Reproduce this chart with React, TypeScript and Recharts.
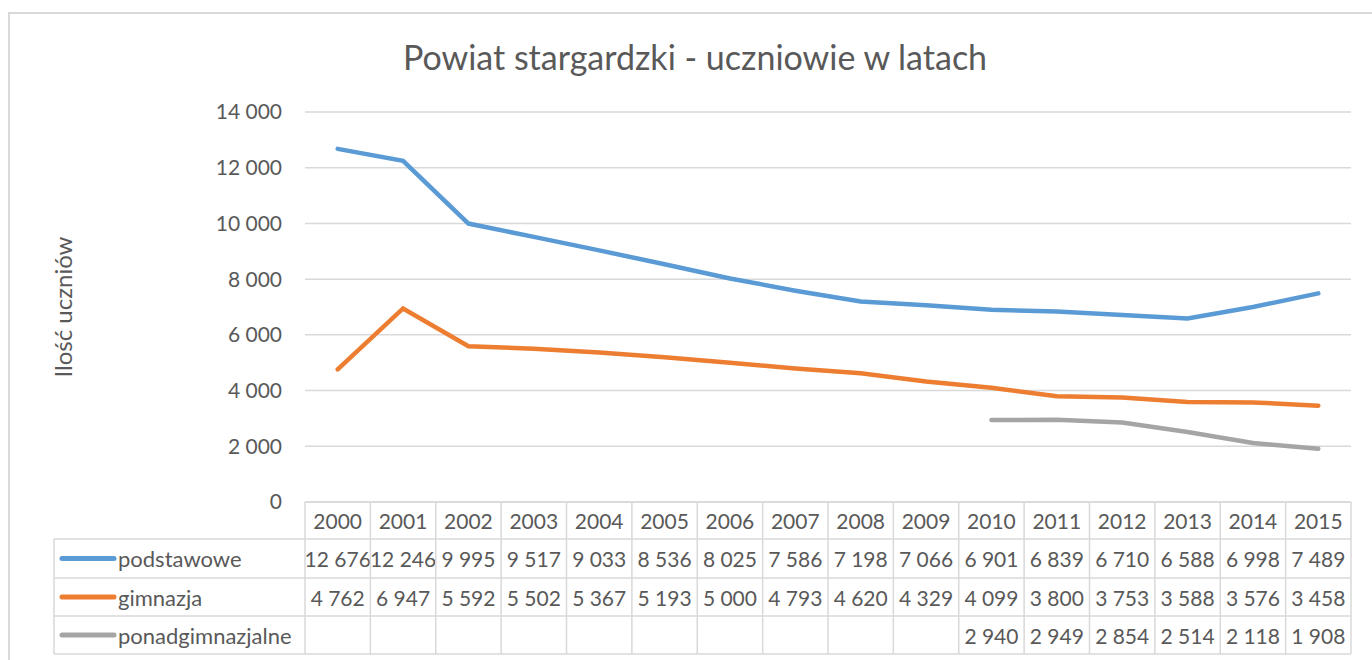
import React from 'react';
import { LineChart, Line, XAxis, YAxis, CartesianGrid } from 'recharts';

const years = ['2000', '2001', '2002', '2003', '2004', '2005', '2006', '2007', '2008', '2009', '2010', '2011', '2012', '2013', '2014', '2015'];
const podstawowe = [12676, 12246, 9995, 9517, 9033, 8536, 8025, 7586, 7198, 7066, 6901, 6839, 6710, 6588, 6998, 7489];
const gimnazja = [4762, 6947, 5592, 5502, 5367, 5193, 5000, 4793, 4620, 4329, 4099, 3800, 3753, 3588, 3576, 3458];
const ponadgimnazjalne = [null, null, null, null, null, null, null, null, null, null, 2940, 2949, 2854, 2514, 2118, 1908];
const yTicks = [0, 2000, 4000, 6000, 8000, 10000, 12000, 14000];

const series = [
  { key: 'podstawowe', name: 'podstawowe', color: '#5b9bd5', values: podstawowe },
  { key: 'gimnazja', name: 'gimnazja', color: '#ed7d31', values: gimnazja },
  { key: 'ponadgimnazjalne', name: 'ponadgimnazjalne', color: '#a5a5a5', values: ponadgimnazjalne },
];

const data = years.map((year, i) => ({
  year,
  podstawowe: podstawowe[i],
  gimnazja: gimnazja[i],
  ponadgimnazjalne: ponadgimnazjalne[i],
}));

const W = 1372;
const H = 660;
const LEFT = 305;
const RIGHT = 21;
const TOP = 112;
const BOTTOM = 158;
const BAND = (W - LEFT - RIGHT) / years.length;
const ROWS = [0, 37, 76, 114, 152];
const TABLE_LEFT = 54;
const FONT = 'Lato, "Open Sans", sans-serif';
const TEXT = '#595959';
const BORDER = '#d9d9d9';

const fmt = (v: number | null) => (v == null ? '' : v.toLocaleString('en-US').replace(/,/g, ' '));

const TableTick = (props: any) => {
  const { x, y, payload, index } = props;
  const left = x - BAND / 2;
  const right = x + BAND / 2;
  const last = index === years.length - 1;
  return (
    <g>
      {ROWS.map((r) => (
        <line key={r} x1={left} x2={right} y1={y + r} y2={y + r} stroke={BORDER} strokeWidth={1.5} />
      ))}
      <line x1={left} x2={left} y1={y} y2={y + ROWS[4]} stroke={BORDER} strokeWidth={1.5} />
      {last && <line x1={right} x2={right} y1={y} y2={y + ROWS[4]} stroke={BORDER} strokeWidth={1.5} />}
      <text x={x} y={y + (ROWS[0] + ROWS[1]) / 2} textAnchor="middle" dominantBaseline="central" fontSize={21} fill={TEXT} fontFamily={FONT}>
        {payload.value}
      </text>
      {series.map((s, si) => (
        <text key={s.key} x={x} y={y + (ROWS[si + 1] + ROWS[si + 2]) / 2} textAnchor="middle" dominantBaseline="central" fontSize={21} fill={TEXT} fontFamily={FONT}>
          {fmt(s.values[index])}
        </text>
      ))}
      {index === 0 && (
        <g>
          <line x1={TABLE_LEFT} x2={TABLE_LEFT} y1={y + ROWS[1]} y2={y + ROWS[4]} stroke={BORDER} strokeWidth={1.5} />
          {ROWS.slice(1).map((r) => (
            <line key={r} x1={TABLE_LEFT} x2={left} y1={y + r} y2={y + r} stroke={BORDER} strokeWidth={1.5} />
          ))}
          {series.map((s, si) => {
            const cy = y + (ROWS[si + 1] + ROWS[si + 2]) / 2;
            return (
              <g key={s.key}>
                <line x1={62} x2={114} y1={cy} y2={cy} stroke={s.color} strokeWidth={5} strokeLinecap="round" />
                <text x={118} y={cy} dominantBaseline="central" fontSize={22} fill={TEXT} fontFamily={FONT}>
                  {s.name}
                </text>
              </g>
            );
          })}
        </g>
      )}
    </g>
  );
};

const YTitle = () => (
  <text x={62} y={307} transform="rotate(-90, 62, 307)" textAnchor="middle" dominantBaseline="central" fontSize={24} fill={TEXT} fontFamily={FONT}>
    Ilość uczniów
  </text>
);

export default function App() {
  return (
    <div style={{ position: 'relative', width: W, height: H, overflow: 'hidden', background: '#fff' }}>
      <style>{'body{margin:0}'}</style>
      <div style={{ position: 'absolute', left: 8, top: 12, width: W, height: H, borderLeft: `2px solid ${BORDER}`, borderTop: `2px solid ${BORDER}` }} />
      <div style={{ position: 'absolute', left: 0, top: 37, width: 1390, textAlign: 'center', fontFamily: FONT, fontSize: 34, color: TEXT, lineHeight: '40px' }}>
        Powiat stargardzki - uczniowie w latach
      </div>
      <div style={{ position: 'absolute', left: 0, top: 0 }}>
        <LineChart width={W} height={H} data={data} margin={{ top: TOP, right: RIGHT, bottom: 6, left: 0 }}>
          <CartesianGrid
            vertical={false}
            stroke={BORDER}
            strokeWidth={1.5}
            x={LEFT}
            width={W - LEFT - RIGHT}
            y={TOP}
            height={H - TOP - BOTTOM}
          />
          <XAxis
            dataKey="year"
            height={152}
            axisLine={false}
            tickLine={false}
            tickSize={0}
            tickMargin={0}
            interval={0}
            padding={{ left: BAND / 2, right: BAND / 2 }}
            tick={<TableTick />}
          />
          <YAxis
            width={LEFT}
            domain={[0, 14000]}
            ticks={yTicks}
            axisLine={false}
            tickLine={false}
            tickSize={0}
            tickMargin={23}
            tickFormatter={(v: number) => fmt(v)}
            tick={{ fontSize: 21, fill: TEXT, fontFamily: FONT }}
            label={<YTitle />}
          />
          {series.map((s) => (
            <Line
              key={s.key}
              type="linear"
              dataKey={s.key}
              name={s.name}
              stroke={s.color}
              strokeWidth={4.5}
              strokeLinecap="round"
              dot={false}
              activeDot={false}
              connectNulls={false}
              isAnimationActive={false}
            />
          ))}
        </LineChart>
      </div>
    </div>
  );
}
